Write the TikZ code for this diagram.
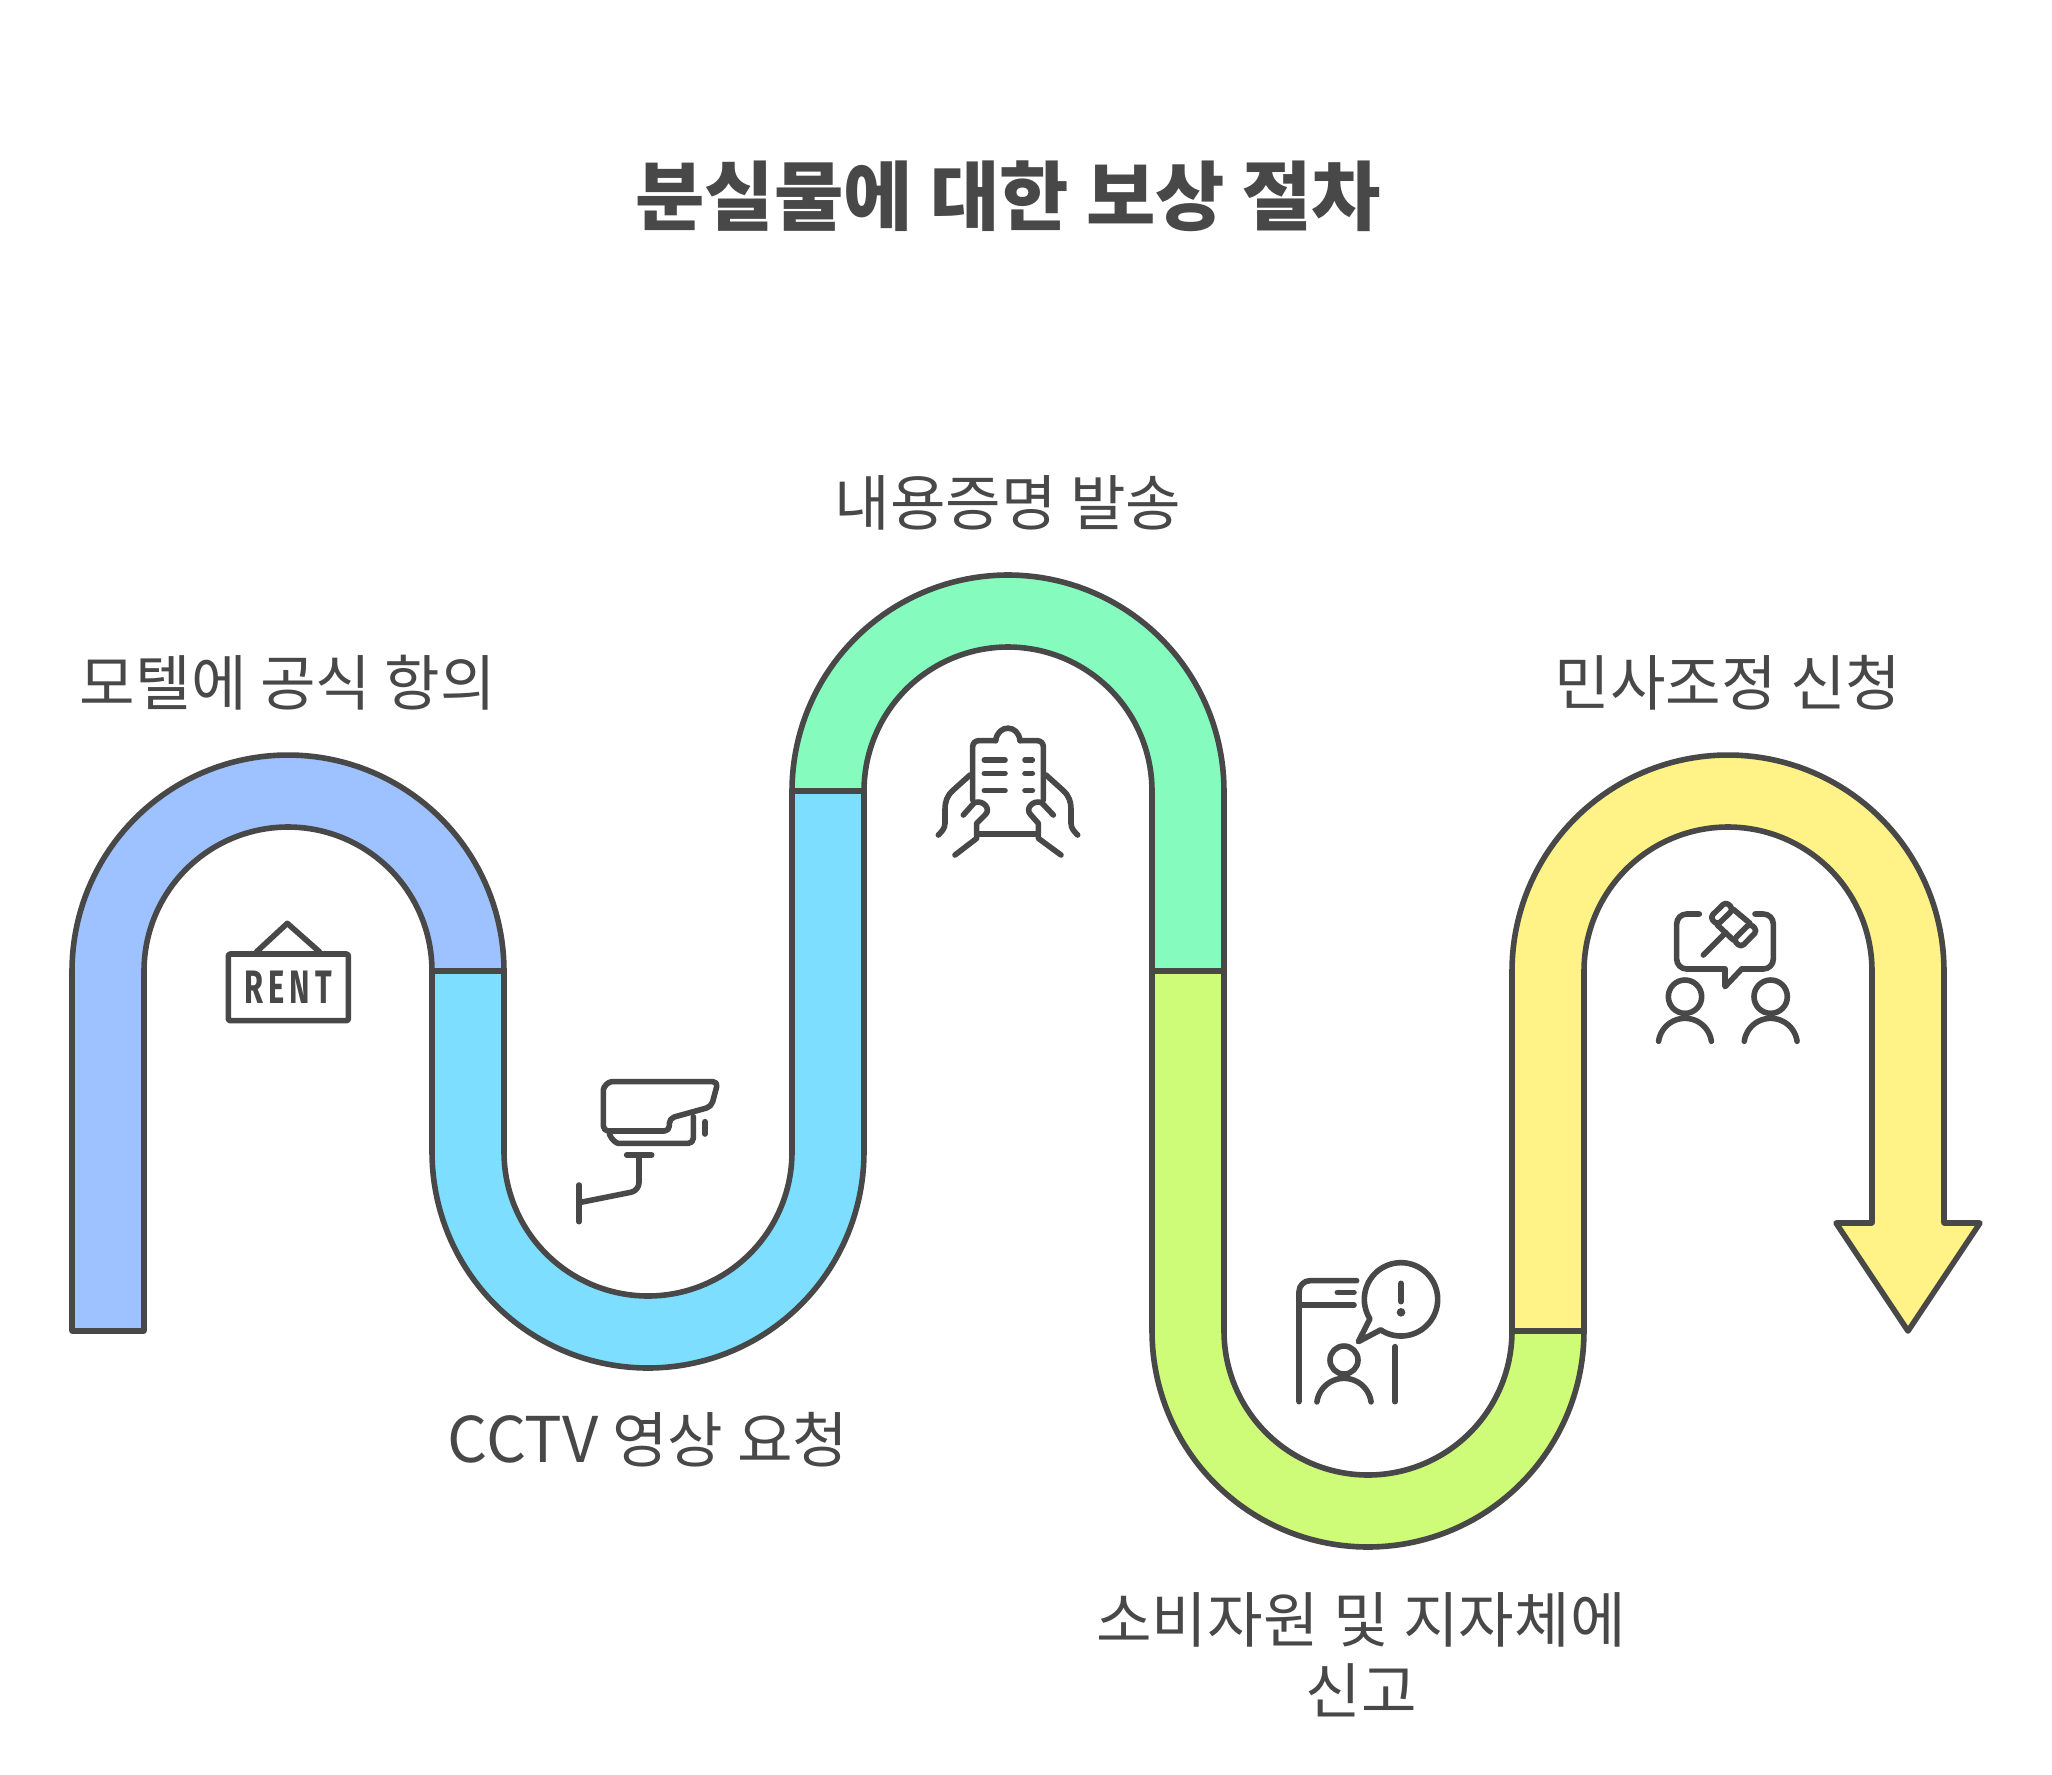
\documentclass[tikz,border=0pt]{standalone}
\usepackage{fontspec}
\newfontfamily\kr{Noto Sans CJK KR}
\newfontfamily\rentfont{Fira Sans}
\definecolor{ink}{HTML}{484848}
\definecolor{cblue}{HTML}{9EC2FF}
\definecolor{ccyan}{HTML}{7EDEFF}
\definecolor{cgreen}{HTML}{86FBBE}
\definecolor{clime}{HTML}{CEFB78}
\definecolor{cyellow}{HTML}{FFF286}
\tikzset{
  ribbon/.style={draw=ink,line width=2.8pt,line join=round},
  icon/.style={draw=ink,line width=2.8pt,line cap=round,line join=round},
  label/.style={text=ink,font=\kr\fontsize{30.2pt}{34pt}\selectfont,align=center,inner sep=0pt},
  heading/.style={text=ink,font=\kr\bfseries\fontsize{37.7pt}{42pt}\selectfont,align=center,inner sep=0pt},
}
\begin{document}
\begin{tikzpicture}[x=0.5pt,y=-0.5pt]
\useasboundingbox (0,0) rectangle (2052,1774);
\fill[white] (0,0) rectangle (2052,1774);
% ribbons
\path[ribbon,fill=cblue] (72,1331) -- (72,971) -- plot[domain=180:360,samples=90] ({288+216*cos(\x)},{971+216*sin(\x)}) -- plot[domain=360:180,samples=90] ({288+144*cos(\x)},{971+144*sin(\x)}) -- (144,1331) -- cycle;
\path[ribbon,fill=ccyan] (432,971) -- plot[domain=180:0,samples=90] ({648+216*cos(\x)},{1152+216*sin(\x)}) -- (864,791) -- (792,791) -- plot[domain=0:180,samples=90] ({648+144*cos(\x)},{1152+144*sin(\x)}) -- (504,971) -- cycle;
\path[ribbon,fill=cgreen] (792,791) -- plot[domain=180:360,samples=90] ({1008+216*cos(\x)},{791+216*sin(\x)}) -- (1224,971) -- (1152,971) -- plot[domain=360:180,samples=90] ({1008+144*cos(\x)},{791+144*sin(\x)}) -- cycle;
\path[ribbon,fill=clime] (1152,971) -- plot[domain=180:0,samples=90] ({1368+216*cos(\x)},{1331+216*sin(\x)}) -- (1512,1331) -- plot[domain=0:180,samples=90] ({1368+144*cos(\x)},{1331+144*sin(\x)}) -- (1224,971) -- cycle;
\path[ribbon,fill=cyellow] (1512,1331) -- plot[domain=180:360,samples=90] ({1728+216*cos(\x)},{971+216*sin(\x)}) -- (1944,1223) -- (1980,1223) -- (1908,1331) -- (1836,1223) -- (1872,1223) -- plot[domain=360:180,samples=90] ({1728+144*cos(\x)},{971+144*sin(\x)}) -- (1584,1331) -- cycle;
% rent sign
\begin{scope}[shift={(200,900)},scale=1/3]
\draw[icon,rounded corners=1pt] (85,162) rectangle (445,362);
\draw[icon] (170,155) -- (262,70) -- (358,155);
\node[text=ink,inner sep=0pt] (rent) at (264,262) {\scalebox{0.67}[1.02]{\rentfont\bfseries\fontsize{23pt}{23pt}\selectfont R\,E\,N\,T}};
\end{scope}
% camera
\begin{scope}[shift={(560,1060)},scale=1/3]
\draw[icon,rounded corners=2.5pt] (130,213) -- (130,105) .. controls (130,80) and (145,65) .. (170,65) -- (474,65) -- (454,140) -- (328,175) -- (328,213) -- cycle;
\draw[icon,rounded corners=2.5pt] (148,222) .. controls (155,240) and (170,250) .. (190,250) -- (400,250) -- (400,170);
\draw[icon] (435,185) -- (435,222);
\draw[icon] (200,285) -- (275,285);
\draw[icon,rounded corners=4pt] (237,285) -- (237,392) -- (57,428);
\draw[icon] (57,375) -- (57,485);
\end{scope}
% hands and document
\begin{scope}[shift={(925,710)},scale=1/3]
\draw[icon,rounded corners=3pt] (143,270) -- (143,92) -- (212,92);
\draw[icon] (212,92) .. controls (218,42) and (280,42) .. (285,92);
\draw[icon,rounded corners=3pt] (285,92) -- (355,92) -- (355,270);
\foreach \yy in {150,190,242}{
  \draw[icon] (178,\yy) -- (240,\yy);
  \draw[icon] (300,\yy) -- (322,\yy);
}
\draw[icon] (160,372) -- (335,372);
\draw[icon] (135,195) -- (85,240) .. controls (65,258) and (60,275) .. (60,300) -- (60,340) .. controls (60,355) and (50,365) .. (40,375);
\draw[icon] (363,195) -- (413,240) .. controls (433,258) and (438,275) .. (438,300) -- (438,340) .. controls (438,355) and (448,365) .. (458,375);
\draw[icon] (115,315) -- (148,278) .. controls (175,268) and (200,298) .. (180,315) -- (155,340) -- (155,385) -- (90,435);
\draw[icon] (385,315) -- (350,278) .. controls (323,268) and (298,298) .. (318,315) -- (340,340) -- (340,385) -- (408,435);
\end{scope}
% report
\begin{scope}[shift={(1280,1240)},scale=1/3]
\draw[icon,rounded corners=5.5pt] (57,485) -- (57,122) -- (230,122);
\draw[icon] (57,195) -- (222,195);
\draw[icon] (172,157) -- (222,157);
\draw[icon] (345,320) -- (345,485);
\draw[icon] (192,360) circle[radius=42];
\draw[icon] plot[domain=188:352,samples=40] ({192+82*cos(\x)},{497+82*sin(\x)});
\draw[icon] (235,305) -- plot[domain=123.7:-212.1,samples=120] ({363+110*cos(\x)},{178+110*sin(\x)}) -- cycle;
\draw[icon] (363,130) -- (363,185);
\fill[ink] (363,217) circle[radius=13];
\end{scope}
% mediation
\begin{scope}[shift={(1640,890)},scale=1/3]
\draw[icon,rounded corners=5pt] (178,72) -- (110,72) -- (110,237) -- (255,237);
\draw[icon] (255,237) -- (255,290) -- (305,237);
\draw[icon,rounded corners=5pt] (305,237) -- (400,237) -- (400,72) -- (345,72);
\draw[icon,rounded corners=2pt] (258,35) -- (210,82) -- (232,105) -- (280,58) -- cycle;
\draw[icon,rounded corners=2pt] (330,100) -- (280,150) -- (303,172) -- (352,122) -- cycle;
\draw[icon] (280,58) -- (330,100);
\draw[icon] (232,105) -- (280,150);
\draw[icon] (190,195) -- (257,128);
\draw[icon] (135,320) circle[radius=50];
\draw[icon] plot[domain=188:352,samples=40] ({135+80*cos(\x)},{465+80*sin(\x)});
\draw[icon] (392,320) circle[radius=50];
\draw[icon] plot[domain=188:352,samples=40] ({392+80*cos(\x)},{465+80*sin(\x)});
\end{scope}
% text
\node[heading] (title) at (1008,196) {분실물에 대한 보상 절차};
\node[label] (t1) at (288,683) {모텔에 공식 항의};
\node[label] (t2) at (648,1440) {{\fontsize{31.5pt}{34pt}\selectfont CCTV} 영상 요청};
\node[label] (t3) at (1008,503) {내용증명 발송};
\node[label,text width=600pt] (t4) at (1361,1655) {소비자원\hspace{-2.8pt} 및\hspace{-2.8pt} 지자체에\\[1.5pt]신고};
\node[label] (t5) at (1728,683) {민사조정 신청};
\end{tikzpicture}
\end{document}
